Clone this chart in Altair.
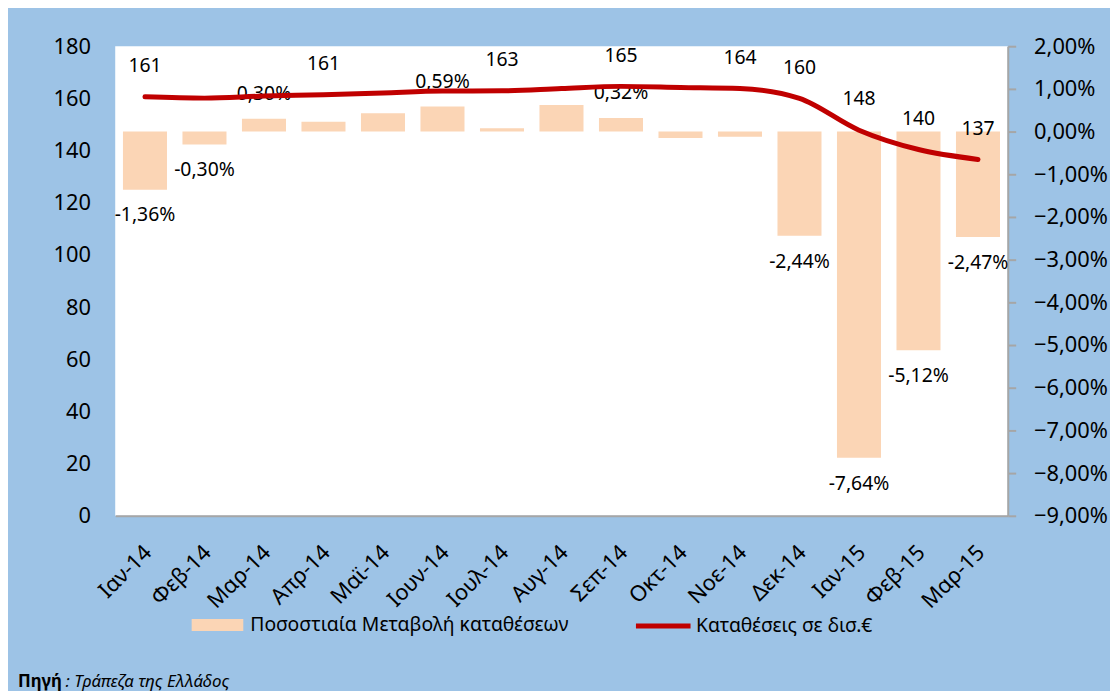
import altair as alt
import pandas as pd

FONT = "Noto Sans"
BLUE_BG = "#9DC3E6"
PEACH = "#FBD5B5"
RED = "#C00000"

months = ["Ιαν-14", "Φεβ-14", "Μαρ-14", "Απρ-14", "Μαϊ-14", "Ιουν-14", "Ιουλ-14",
          "Αυγ-14", "Σεπ-14", "Οκτ-14", "Νοε-14", "Δεκ-14", "Ιαν-15", "Φεβ-15", "Μαρ-15"]
pct_change = [-1.36, -0.30, 0.30, 0.23, 0.43, 0.59, 0.08, 0.62, 0.32, -0.15, -0.12,
              -2.44, -7.64, -5.12, -2.47]
deposits = [160.6, 160.1, 160.9, 161.4, 162.1, 162.8, 162.9, 163.8, 164.6, 164.2,
            163.8, 160.0, 147.8, 140.4, 136.6]
deposit_labels = ["161", "", "", "161", "", "", "163", "", "165", "", "164", "160",
                  "148", "140", "137"]
pct_labels = ["-1,36%", "-0,30%", "0,30%", "", "", "0,59%", "", "", "0,32%", "", "",
              "-2,44%", "-7,64%", "-5,12%", "-2,47%"]
bar_name = "Ποσοστιαία Μεταβολή καταθέσεων"
line_name = "Καταθέσεις σε δισ.€"
source_bold = ["Πηγή"]
source_rest = [": Τράπεζα της Ελλάδος"]

df = pd.DataFrame({
    "month": months,
    "pct": pct_change,
    "dep": deposits,
    "dep_label": deposit_labels,
    "pct_label": pct_labels,
    "bar_series": [bar_name] * len(months),
    "line_series": [line_name] * len(months),
})

x_enc = alt.X(
    "month:N", sort=months,
    scale=alt.Scale(paddingInner=0.26, paddingOuter=0.13),
    axis=alt.Axis(title=None, labelAngle=-45, labelAlign="right", labelBaseline="middle",
                  labelFontSize=22, labelFont=FONT, labelColor="black", labelPadding=33,
                  labelOffset=3, ticks=False, domainColor="#A6A6A6", domainWidth=2),
)

y_pct = alt.Y(
    "pct:Q",
    scale=alt.Scale(domain=[-9, 2], nice=False, zero=True),
    axis=alt.Axis(orient="right", title=None, values=list(range(-9, 3)),
                  labelExpr="replace(format(datum.value, '.2f'), '.', ',') + '%'",
                  labelFontSize=22, labelFont=FONT, labelColor="black", labelPadding=18,
                  tickSize=8, tickColor="#A6A6A6", tickWidth=2,
                  domainColor="#A6A6A6", domainWidth=2, grid=False),
)

y_dep = alt.Y(
    "dep:Q",
    scale=alt.Scale(domain=[0, 180], nice=False),
    axis=alt.Axis(orient="left", title=None, values=list(range(0, 181, 20)),
                  labelFontSize=22, labelFont=FONT, labelColor="black", labelPadding=25,
                  ticks=False, domain=False, grid=False),
)

bars = alt.Chart(df).mark_bar().encode(
    x=x_enc,
    y=y_pct,
    fill=alt.Fill("bar_series:N", scale=alt.Scale(domain=[bar_name], range=[PEACH]),
                  legend=alt.Legend(orient="none", legendX=77, legendY=557, title=None,
                                    padding=0, symbolType="M-1,-0.23H1V0.23H-1Z",
                                    symbolSize=2704, symbolStrokeWidth=0, symbolOpacity=1,
                                    labelFontSize=19.5, labelFont=FONT, labelColor="black",
                                    labelLimit=600, labelOffset=7)),
)

bar_text_pos = alt.Chart(df).transform_filter(
    "datum.pct > 0 && datum.pct_label != ''"
).mark_text(dy=-25, fontSize=19.5, font=FONT, color="black").encode(
    x=x_enc, y=y_pct, text="pct_label:N")

bar_text_neg = alt.Chart(df).transform_filter(
    "datum.pct < 0 && datum.pct_label != ''"
).mark_text(dy=26, fontSize=19.5, font=FONT, color="black").encode(
    x=x_enc, y=y_pct, text="pct_label:N")

bar_group = alt.layer(bars, bar_text_pos, bar_text_neg)

line = alt.Chart(df).mark_line(strokeWidth=5, strokeCap="round", strokeJoin="round",
                               interpolate="monotone").encode(
    x=x_enc,
    y=y_dep,
    stroke=alt.Stroke("line_series:N", scale=alt.Scale(domain=[line_name], range=[RED]),
                      legend=alt.Legend(orient="none", legendX=522, legendY=554, title=None,
                                        padding=0, symbolType="stroke", symbolSize=3025,
                                        symbolStrokeWidth=5, labelFontSize=19.5,
                                        labelFont=FONT, labelColor="black",
                                        labelLimit=600, labelOffset=3)),
)

line_text = alt.Chart(df).transform_filter("datum.dep_label != ''").mark_text(
    dy=-31, fontSize=19.5, font=FONT, color="black").encode(
    x=x_enc, y=y_dep, text="dep_label:N")

line_group = alt.layer(line, line_text)

src1 = alt.Chart(pd.DataFrame({"t": source_bold})).mark_text(
    align="left", baseline="middle", fontSize=17, font=FONT, fontWeight="bold",
    color="black").encode(x=alt.value(-98), y=alt.value(640), text="t:N")
src2 = alt.Chart(pd.DataFrame({"t": source_rest})).mark_text(
    align="left", baseline="middle", fontSize=17, font=FONT, fontStyle="italic",
    color="black").encode(x=alt.value(-50), y=alt.value(640), text="t:N")

chart = alt.layer(bar_group, line_group, src1, src2).resolve_scale(
    y="independent"
).properties(
    width=899, height=473,
    autosize=alt.AutoSizeParams(type="none"),
    padding={"left": 108, "top": 36, "right": 103, "bottom": 174},
    background=BLUE_BG,
).configure_view(fill="white", stroke=None)

chart.save("out.html", embed_options={"renderer": "svg", "actions": False})
